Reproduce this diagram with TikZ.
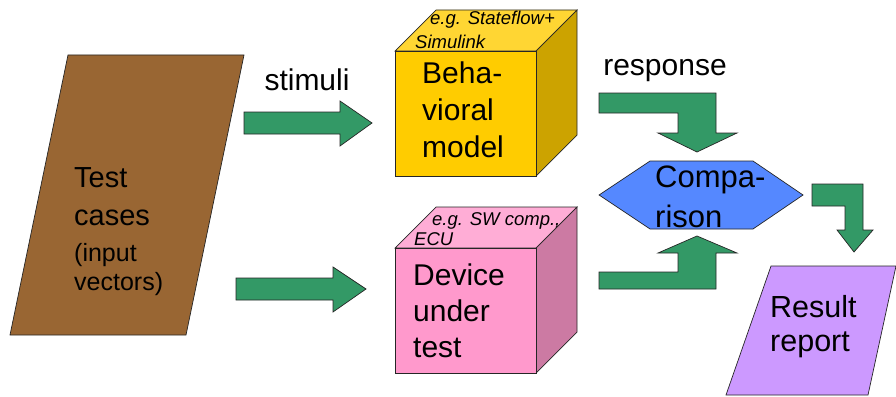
\documentclass[tikz,border=0pt]{standalone}
\usepackage{fontspec}
\setmainfont{Liberation Sans}
\definecolor{brownfill}{RGB}{153,102,51}
\definecolor{arrowgreen}{RGB}{51,153,102}
\definecolor{yelfront}{RGB}{255,204,0}
\definecolor{yeltop}{RGB}{255,214,51}
\definecolor{yelside}{RGB}{204,163,0}
\definecolor{pinkfront}{RGB}{255,153,204}
\definecolor{pinktop}{RGB}{255,173,214}
\definecolor{pinkside}{RGB}{204,122,163}
\definecolor{cmpblue}{RGB}{85,136,255}
\definecolor{lilac}{RGB}{204,153,255}
\tikzset{
  outline/.style={draw=black!85, line width=0.7pt, line join=miter},
  blockarrow/.style={outline, fill=arrowgreen},
  bigtext/.style={inner sep=0pt, anchor=north west, align=left, font=\fontsize{30}{37}\selectfont},
  smalltext/.style={inner sep=0pt, anchor=north west, align=left, font=\fontsize{18.5}{22}\selectfont\itshape},
  labeltext/.style={inner sep=0pt, anchor=base, font=\fontsize{30}{36}\selectfont}
}
\begin{document}
\begin{tikzpicture}[x=1pt,y=-1pt]
\useasboundingbox (0,0) rectangle (896,396);

% test cases (parallelogram)
\draw[outline, fill=brownfill] (68,55) -- (244,55) -- (186,335) -- (10,335) -- cycle;
\node[bigtext, font=\fontsize{29}{38}\selectfont] (tc) at (74,167) {Test\\cases};
\node[bigtext, font=\fontsize{25}{29}\selectfont] (iv) at (74,243) {(input\\vectors)};

% stimuli arrows
\draw[blockarrow] (244,112) -- (340,112) -- (340,101) -- (372,123) -- (340,146) -- (340,134) -- (244,134) -- cycle;
\draw[blockarrow] (236,278) -- (333,278) -- (333,267) -- (366,289) -- (333,312) -- (333,300) -- (236,300) -- cycle;
\node[labeltext] (stim) at (307,90) {stimuli};

% behavioral model cube
\draw[outline, fill=yeltop] (395,51) -- (436,10) -- (577,10) -- (536,51) -- cycle;
\draw[outline, fill=yelside] (536,51) -- (577,10) -- (577,135) -- (536,176) -- cycle;
\draw[outline, fill=yelfront] (395,51) rectangle (536,176);
\node[smalltext, font=\fontsize{18.5}{24.5}\selectfont\itshape] (bmnote) at (415,10.5) {\hspace{15pt}e.g. Stateflow+\\Simulink};
\node[bigtext] (bm) at (422,61.5) {Beha-\\vioral\\model};

% device under test cube
\draw[outline, fill=pinktop] (395,248) -- (436,207) -- (577,207) -- (536,248) -- cycle;
\draw[outline, fill=pinkside] (536,248) -- (577,207) -- (577,332) -- (536,373) -- cycle;
\draw[outline, fill=pinkfront] (395,248) rectangle (536,373);
\node[smalltext, font=\fontsize{18.5}{20}\selectfont\itshape] (dutnote) at (414,212.5) {\hspace{18pt}e.g. SW comp.,\\ECU};
\node[bigtext, font=\fontsize{30}{36}\selectfont] (dut) at (413,263.5) {Device\\under\\test};

% response arrows into comparison
\draw[blockarrow] (599,93) -- (716,93) -- (716,133) -- (737,133) -- (697,152) -- (658,133) -- (678,133) -- (678,113) -- (599,113) -- cycle;
\draw[blockarrow] (599,289) -- (716,289) -- (716,253) -- (737,253) -- (697,236) -- (658,253) -- (678,253) -- (678,272) -- (599,272) -- cycle;
\node[labeltext] (resp) at (665,75) {response};

% comparison hexagon, its text running onto the lower edge
\draw[outline, fill=cmpblue] (599,195) -- (650,161) -- (753,161) -- (803,195) -- (753,229) -- (650,229) -- cycle;
\node[bigtext, font=\fontsize{31}{40}\selectfont] (cmp) at (655,166) {Compa-\\rison};

% arrow to result
\draw[blockarrow] (812,184) -- (863,184) -- (863,230) -- (873,230) -- (854,252) -- (837,230) -- (845,230) -- (845,206) -- (812,206) -- cycle;

% result report
\draw[outline, fill=lilac] (771,266) -- (896,266) -- (868,395) -- (726,395) -- cycle;
\node[bigtext, font=\fontsize{30.5}{34}\selectfont] (res) at (770,295) {Result\\report};
\end{tikzpicture}
\end{document}
